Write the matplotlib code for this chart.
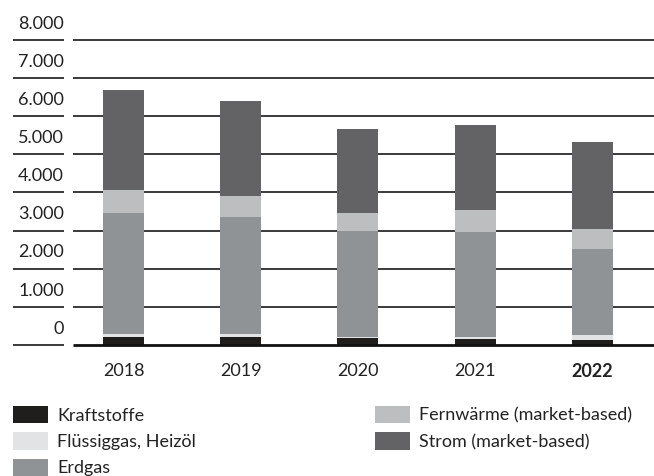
import matplotlib
matplotlib.use("Agg")
import numpy as np
import matplotlib.pyplot as plt
import matplotlib.transforms as mtransforms

plt.rcParams['font.family'] = ['Lato', 'DejaVu Sans']

years = ["2018", "2019", "2020", "2021", "2022"]
kraftstoffe = [220, 220, 180, 160, 130]
fluessiggas = [70, 70, 40, 50, 130]
erdgas = [3175, 3070, 2770, 2756, 2260]
fernwaerme = [600, 550, 470, 577, 525]
strom = [2625, 2490, 2200, 2231, 2283]

series = [
    ("Kraftstoffe", kraftstoffe, "#1f1e1c"),
    ("Flüssiggas, Heizöl", fluessiggas, "#e1e3e5"),
    ("Erdgas", erdgas, "#909396"),
    ("Fernwärme (market-based)", fernwaerme, "#bdbec0"),
    ("Strom (market-based)", strom, "#636365"),
]
yticks = [0, 1000, 2000, 3000, 4000, 5000, 6000, 7000, 8000]
ytick_labels = ["0", "1.000", "2.000", "3.000", "4.000", "5.000", "6.000", "7.000", "8.000"]

W, H = 654, 476
fig = plt.figure(figsize=(W / 100, H / 100), dpi=100)
ax = fig.add_axes([73 / W, (H - 345) / H, (W - 73) / W, 305 / H])

x = np.arange(len(years))
bottom = np.zeros(len(years))
handles = []
for name, vals, color in series:
    b = ax.bar(x, vals, width=0.35, bottom=bottom, color=color, zorder=3, label=name)
    handles.append(b)
    bottom += np.array(vals)

ax.set_xlim(-0.432, 4.526)
ax.set_ylim(0, 8000)

trans = mtransforms.blended_transform_factory(ax.transAxes, ax.transData)
for v, lab in zip(yticks, ytick_labels):
    lw = 2.0 if v == 0 else 1.3
    col = "#111111" if v == 0 else "#2b2b2b"
    ax.plot([0, 1], [v, v], transform=trans, color=col, lw=lw,
            zorder=4 if v == 0 else 1, clip_on=False, solid_capstyle="butt")
    ax.plot([-60 / 581, -9 / 581], [v, v], transform=trans, color="#2b2b2b",
            lw=1.3, clip_on=False, solid_capstyle="butt")
    ax.annotate(lab, xy=(-9 / 581, v), xycoords=trans, xytext=(0, 6),
                textcoords="offset points", ha="right", va="bottom",
                fontsize=13, color="#222222")

for s in ax.spines.values():
    s.set_visible(False)
ax.set_yticks([])
ax.set_xticks(x)
ax.set_xticklabels(years, fontsize=13, color="#222222")
ax.get_xticklabels()[-1].set_fontweight("bold")
ax.tick_params(axis="x", length=0, pad=13)

leg_kw = dict(loc="upper left", frameon=False, fontsize=13, handlelength=1.94,
              handleheight=1.1, handletextpad=0.5, labelspacing=0.47,
              borderpad=0, borderaxespad=0, labelcolor="#222222")
fig.legend(handles=handles[:3], bbox_to_anchor=(13 / W, 1 - 406 / H), **leg_kw)
fig.legend(handles=handles[3:], bbox_to_anchor=(375 / W, 1 - 406 / H), **leg_kw)

fig.savefig("out.png", dpi=100)
